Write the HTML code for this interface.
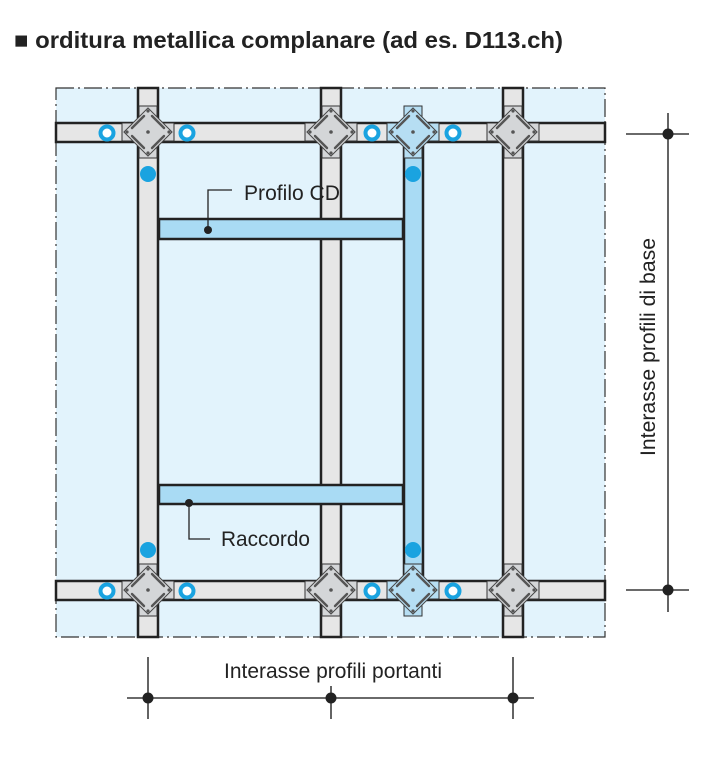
<!DOCTYPE html>
<html><head><meta charset="utf-8"><style>
html,body{margin:0;padding:0;background:#fff;width:726px;height:759px;overflow:hidden}
svg{display:block}
text{font-family:"Liberation Sans",Arial,sans-serif;fill:#222}
</style></head><body>
<svg width="726" height="759" viewBox="0 0 726 759" xmlns="http://www.w3.org/2000/svg">
<defs>
  <g id="conn">
    <rect x="-26" y="-9" width="52" height="18" fill="#d4d6d8" stroke="#333" stroke-width="1"/>
    <rect x="-9" y="-26" width="18" height="52" fill="#d4d6d8" stroke="#333" stroke-width="1"/>
    <rect x="-17" y="-17" width="34" height="34" transform="rotate(45)" fill="#d4d6d8" stroke="#444" stroke-width="1"/>
    <g stroke="#555" stroke-width="2.4" stroke-linecap="round">
      <line x1="-16" y1="-4" x2="-4" y2="-16"/><line x1="4" y1="-16" x2="16" y2="-4"/>
      <line x1="16" y1="4" x2="4" y2="16"/><line x1="-4" y1="16" x2="-16" y2="4"/>
    </g>
    <g fill="#555"><circle r="1.8"/><circle cx="-21" r="1.6"/><circle cx="21" r="1.6"/><circle cy="-21" r="1.6"/><circle cy="21" r="1.6"/></g>
  </g>
  <g id="connb">
    <rect x="-26" y="-9" width="52" height="18" fill="#b6def3" stroke="#333" stroke-width="1"/>
    <rect x="-9" y="-26" width="18" height="52" fill="#b6def3" stroke="#333" stroke-width="1"/>
    <rect x="-17" y="-17" width="34" height="34" transform="rotate(45)" fill="#b6def3" stroke="#444" stroke-width="1"/>
    <g stroke="#555" stroke-width="2.4" stroke-linecap="round">
      <line x1="-16" y1="-4" x2="-4" y2="-16"/><line x1="4" y1="-16" x2="16" y2="-4"/>
      <line x1="16" y1="4" x2="4" y2="16"/><line x1="-4" y1="16" x2="-16" y2="4"/>
    </g>
    <g fill="#555"><circle r="1.8"/><circle cx="-21" r="1.6"/><circle cx="21" r="1.6"/><circle cy="-21" r="1.6"/><circle cy="21" r="1.6"/></g>
  </g>
  <g id="ring"><circle r="6.5" fill="#fff" stroke="#1aa3e0" stroke-width="4"/></g>
</defs>

<text x="14" y="48" font-size="23" font-weight="bold" textLength="549" lengthAdjust="spacingAndGlyphs">■ orditura metallica complanare (ad es. D113.ch)</text>

<rect x="56" y="88" width="549" height="549" fill="#e2f3fc"/>
<rect x="56" y="88" width="549" height="549" fill="none" stroke="#333" stroke-width="1.2" stroke-dasharray="18,4,2,4"/>

<g fill="#e6e6e6" stroke="#222" stroke-width="2.5">
  <rect x="138" y="88" width="20" height="549"/>
  <rect x="321" y="88" width="20" height="549"/>
  <rect x="503" y="88" width="20" height="549"/>
</g>
<g fill="#e6e6e6" stroke="#222" stroke-width="2.5">
  <rect x="56" y="123" width="549" height="19"/>
  <rect x="56" y="581" width="549" height="19"/>
</g>
<rect x="404" y="142" width="19" height="439" fill="#a9dbf4" stroke="#222" stroke-width="2.5"/>
<g fill="#a9dbf4" stroke="#222" stroke-width="2.5">
  <rect x="159" y="219" width="244" height="20"/>
  <rect x="159" y="485" width="244" height="19"/>
</g>

<use href="#conn" x="148" y="132"/>
<use href="#conn" x="331" y="132"/>
<use href="#connb" x="413" y="132"/>
<use href="#conn" x="513" y="132"/>
<use href="#conn" x="148" y="590"/>
<use href="#conn" x="331" y="590"/>
<use href="#connb" x="413" y="590"/>
<use href="#conn" x="513" y="590"/>

<use href="#ring" x="107" y="133"/><use href="#ring" x="187" y="133"/>
<use href="#ring" x="372" y="133"/><use href="#ring" x="453" y="133"/>
<use href="#ring" x="107" y="591"/><use href="#ring" x="187" y="591"/>
<use href="#ring" x="372" y="591"/><use href="#ring" x="453" y="591"/>
<g fill="#1aa3e0">
  <circle cx="148" cy="174" r="8"/><circle cx="413" cy="174" r="8"/>
  <circle cx="148" cy="550" r="8"/><circle cx="413" cy="550" r="8"/>
</g>

<polyline points="208,229 208,190 232,190" fill="none" stroke="#222" stroke-width="1.3"/>
<circle cx="208" cy="230" r="4" fill="#222"/>
<text x="244" y="200" font-size="21" textLength="96" lengthAdjust="spacingAndGlyphs">Profilo CD</text>
<polyline points="189,503 189,539 210,539" fill="none" stroke="#222" stroke-width="1.3"/>
<circle cx="189" cy="503" r="4" fill="#222"/>
<text x="221" y="546" font-size="21" textLength="89" lengthAdjust="spacingAndGlyphs">Raccordo</text>

<g stroke="#111" stroke-width="1.3">
  <line x1="668" y1="113" x2="668" y2="612"/>
  <line x1="626" y1="134" x2="689" y2="134"/>
  <line x1="626" y1="590" x2="689" y2="590"/>
</g>
<circle cx="668" cy="134" r="5.5" fill="#222"/>
<circle cx="668" cy="590" r="5.5" fill="#222"/>
<text transform="translate(655,456) rotate(-90)" font-size="21" textLength="218" lengthAdjust="spacingAndGlyphs">Interasse profili di base</text>

<g stroke="#111" stroke-width="1.3">
  <line x1="127" y1="698" x2="534" y2="698"/>
  <line x1="148" y1="657" x2="148" y2="719"/>
  <line x1="331" y1="686" x2="331" y2="719"/>
  <line x1="513" y1="657" x2="513" y2="719"/>
</g>
<circle cx="148" cy="698" r="5.5" fill="#222"/>
<circle cx="331" cy="698" r="5.5" fill="#222"/>
<circle cx="513" cy="698" r="5.5" fill="#222"/>
<text x="224" y="678" font-size="21" textLength="218" lengthAdjust="spacingAndGlyphs">Interasse profili portanti</text>
</svg>
</body></html>
